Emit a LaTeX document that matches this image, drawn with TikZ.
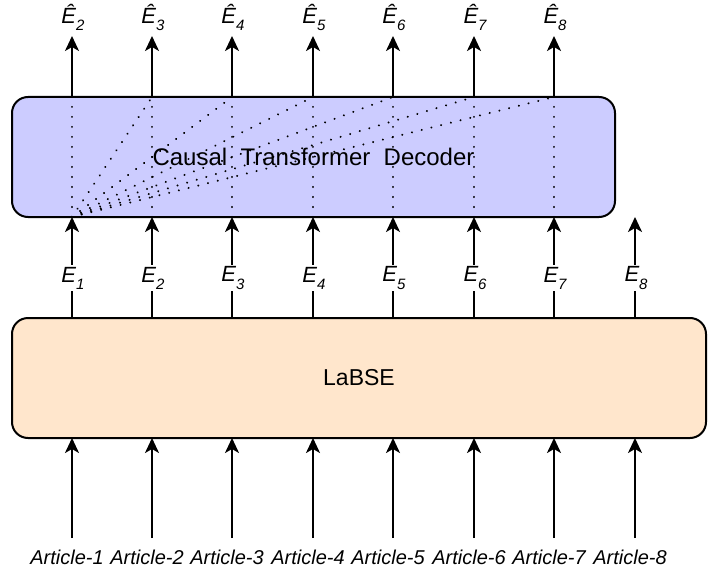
\documentclass[tikz,border=0pt]{standalone}
\usepackage{fontspec}
\setmainfont{Liberation Sans}
\usetikzlibrary{arrows.meta}
\definecolor{decfill}{HTML}{CCCCFF}
\definecolor{labsefill}{HTML}{FFE6CC}
\newcommand\lblsub[2]{#1\raisebox{-0.32em}{\fontsize{15}{15}\selectfont #2}}
\begin{document}
\begin{tikzpicture}[x=1pt,y=-1pt,
  arr/.style={line width=2pt,-{Stealth[length=15pt,width=14pt,inset=4pt]}},
  bigbox/.style={draw,line width=2pt,rounded corners=16pt,outer sep=0pt,inner sep=0pt,anchor=north west},
  dots/.style={line width=2.2pt,dash pattern=on 0.01pt off 10pt,line cap=round},
  elab/.style={font=\fontsize{22}{22}\selectfont\itshape,inner sep=1pt},
  wlab/.style={elab,fill=white,inner sep=2pt},
  alab/.style={font=\fontsize{20}{20}\selectfont\itshape,inner sep=0pt}]
\useasboundingbox (0,0) rectangle (708,572);

\node[bigbox,fill=decfill,minimum width=603pt,minimum height=120pt,
      font=\fontsize{24}{24}\selectfont] (dec) at (12,97) {Causal\ \ Transformer\ \ Decoder};
\node[bigbox,fill=labsefill,minimum width=694pt,minimum height=120pt,
      font=\fontsize{23}{23}\selectfont] (labse) at (12,318) {LaBSE};

\foreach \i in {1,...,8}{
  \pgfmathsetmacro\xx{int(72+80.43*(\i-1))}
  \coordinate (dt\i) at (\xx,97);
  \coordinate (db\i) at (\xx,217);
  \coordinate (lt\i) at (\xx,318);
  \coordinate (lb\i) at (\xx,438);
  \coordinate (as\i) at (\xx,538);
  \coordinate (tt\i) at (\xx,36);
}

% dotted attention lines
\foreach \i in {1,...,7}{
  \draw[dots] (db\i) -- (dt\i);
}
\foreach \j in {2,...,7}{
  \draw[dots] (db1) -- (dt\j);
}

% top outputs
\foreach \i [evaluate=\i as \k using int(\i+1)] in {1,...,7}{
  \draw[arr] (dt\i) -- (tt\i);
  \pgfmathsetmacro\xx{int(72+80.43*(\i-1))}
  \node[elab] (eh\i) at (\xx+1,17) {\lblsub{Ê}{\k}};
}

% middle embeddings
\foreach \i in {1,...,8}{
  \draw[arr] (lt\i) -- (db\i);
  \pgfmathsetmacro\xx{int(72+80.43*(\i-1))}
  \node[wlab] (e\i) at (\xx+1,278) {\lblsub{E}{\i}};
}

% bottom inputs
\foreach \i in {1,...,8}{
  \draw[arr] (as\i) -- (lb\i);
  \pgfmathsetmacro\xx{int(72+80.43*(\i-1))}
  \node[alab] (art\i) at (\xx-5,557) {Article-\i};
}
\end{tikzpicture}
\end{document}
